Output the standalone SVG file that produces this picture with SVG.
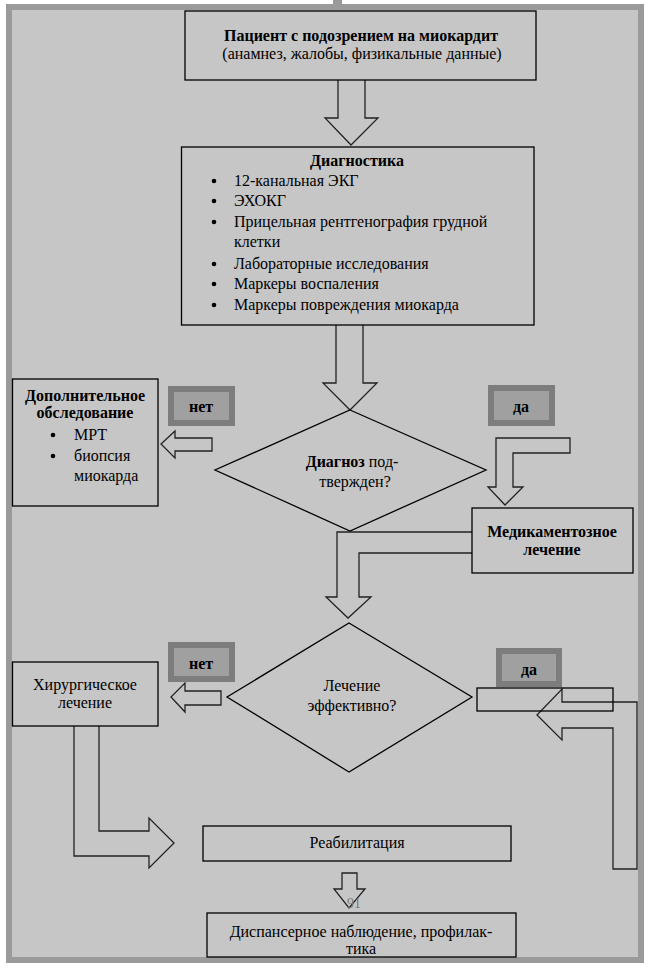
<svg xmlns="http://www.w3.org/2000/svg" width="650" height="968" viewBox="0 0 650 968">
<style>
text{font-family:"Liberation Serif","Times New Roman",serif;font-size:16px;fill:#000}
.b{font-weight:bold}
.c{text-anchor:middle}
.box{fill:#c6c6c6;stroke:#000;stroke-width:1.3}
.arr{fill:#c6c6c6;stroke:#222;stroke-width:1.3;stroke-linejoin:miter}
.lab{fill:#a0a0a0;stroke:#7d7d7d;stroke-width:6}
</style>
<rect x="0" y="0" width="650" height="968" fill="#fff"/>
<rect x="333" y="0" width="9" height="12" fill="#9a9a9a"/>
<rect x="9" y="7" width="632" height="953" fill="#c6c6c6" stroke="#9a9a9a" stroke-width="6"/>

<g id="connectors">
<path class="arr" d="M338,80 L338,118 L325,118 L351,145 L378,118 L365,118 L365,80"/>
<path class="arr" d="M336,325 L336,383 L323,383 L350,410 L377,383 L363,383 L363,325"/>
<path class="arr" d="M212,438 L175,438 L175,431 L161,444 L175,458 L175,451 L212,451 Z"/>
<path class="arr" d="M496,438 L570,438 L570,453 L513,453 L513,487 L523,487 L505,505 L488,487 L496,487 Z"/>
<path class="arr" d="M472,532 L337,532 L337,597 L326,597 L348,618 L371,597 L359,597 L359,553 L472,553"/>
<path class="arr" d="M221,691 L185,691 L185,683 L171,697 L185,712 L185,705 L221,705 Z"/>
<path class="arr" d="M613,869 L637,869 L637,702 L562,702 L562,689 L537,715 L562,740 L562,728 L613,728 Z"/>
<path class="arr" d="M74,726 L74,856 L149,856 L149,868 L174,843 L149,818 L149,831 L99,831 L99,726"/>
<path class="arr" d="M342,873 L342,889 L334,889 L349,908 L365,889 L357,889 L357,873 Z"/>
</g>

<g id="n1">
<rect class="box" x="185" y="11" width="351" height="69"/>
<text class="b c" x="361" y="41">Пациент с подозрением на миокардит</text>
<text class="c" x="362" y="59">(анамнез, жалобы, физикальные данные)</text>
</g>

<g id="n2">
<rect class="box" x="181.5" y="147" width="352.5" height="178"/>
<text class="b c" x="357" y="166">Диагностика</text>
<g>
<circle cx="214" cy="181" r="2.3"/>
<circle cx="214" cy="201" r="2.3"/>
<circle cx="214" cy="222" r="2.3"/>
<circle cx="214" cy="264" r="2.3"/>
<circle cx="214" cy="284" r="2.3"/>
<circle cx="214" cy="305" r="2.3"/>
</g>
<text x="234" y="186">12-канальная ЭКГ</text>
<text x="234" y="206">ЭХОКГ</text>
<text x="234" y="227">Прицельная рентгенография грудной</text>
<text x="234" y="247">клетки</text>
<text x="234" y="269">Лабораторные исследования</text>
<text x="234" y="289">Маркеры воспаления</text>
<text x="234" y="310">Маркеры повреждения миокарда</text>
</g>

<g id="d1">
<polygon class="box" points="350,410 486,470 350,531 215,470"/>
<text class="c" x="352" y="467"><tspan class="b">Диагноз</tspan> под-</text>
<text class="c" x="355" y="487">твержден?</text>
</g>

<g id="n3">
<rect class="box" x="12.5" y="379" width="145.5" height="127"/>
<text class="b c" x="85" y="401">Дополнительное</text>
<text class="b c" x="85" y="418">обследование</text>
<circle cx="53" cy="435" r="2.3"/>
<circle cx="53" cy="456" r="2.3"/>
<text x="74" y="440">МРТ</text>
<text x="74" y="461">биопсия</text>
<text x="74" y="481">миокарда</text>
</g>

<g id="l_no1">
<rect class="lab" x="171" y="389" width="61" height="34"/>
<text class="b c" x="201" y="412">нет</text>
</g>
<g id="l_yes1">
<rect class="lab" x="491" y="388" width="61" height="35"/>
<text class="b c" x="521" y="412">да</text>
</g>

<g id="n4">
<rect class="box" x="472" y="508" width="161" height="65"/>
<text class="b c" x="552" y="537">Медикаментозное</text>
<text class="b c" x="552" y="555">лечение</text>
</g>

<g id="d2">
<polygon class="box" points="349,623 472,697 349,772 227,697"/>
<text class="c" x="352" y="691">Лечение</text>
<text class="c" x="352" y="711">эффективно?</text>
</g>

<g id="l_no2">
<rect class="lab" x="171" y="645" width="61" height="34"/>
<text class="b c" x="201" y="669">нет</text>
</g>
<g id="l_yes2">
<rect class="lab" x="499" y="651" width="60" height="33"/>
<text class="b c" x="529" y="675">да</text>
</g>
<g id="n_empty">
<rect x="477" y="688" width="136" height="23" fill="none" stroke="#000" stroke-width="1.3"/>
</g>

<g id="n5">
<rect class="box" x="12.5" y="662" width="145.5" height="64"/>
<text class="c" x="85" y="690">Хирургическое</text>
<text class="c" x="85" y="708">лечение</text>
</g>

<g id="n6">
<rect class="box" x="203" y="826" width="308" height="35"/>
<text class="c" x="357" y="848">Реабилитация</text>
</g>

<text x="347" y="908" style="fill:#777;font-size:14px">91</text>

<g id="n7">
<rect class="box" x="207" y="913" width="309" height="44"/>
<text class="c" x="361" y="937">Диспансерное наблюдение, профилак-</text>
<text class="c" x="361" y="954">тика</text>
</g>
</svg>
